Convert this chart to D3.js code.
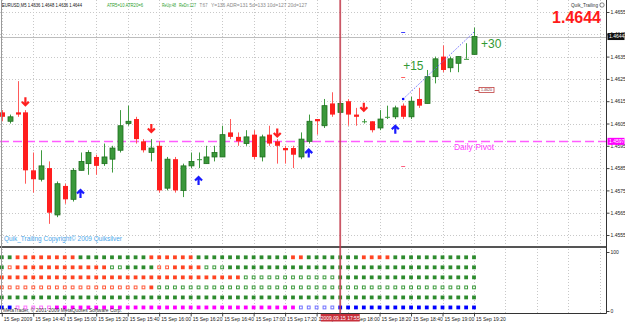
<!DOCTYPE html>
<html>
<head>
<meta charset="utf-8">
<script src="https://cdn.jsdelivr.net/npm/d3@7"></script>
<style>
html, body { margin: 0; padding: 0; background: #fff; }
svg { display: block; font-family: "Liberation Sans", Arial, sans-serif; }
</style>
</head>
<body>
<svg id="chart" width="625" height="323"></svg>
<script>
"use strict";

// EURUSD M5 candles, bar 0 = 14:20, bar 60 = 19:20
var opens  = [1.4610,1.4606,1.4610,1.4610,1.4584,1.4580,1.4585,1.4564,1.4577,1.4571,
              1.4584,1.4587,1.4590,1.4587,1.4589,1.4593,1.4605,1.4607,1.4597,1.4592,
              1.4595,1.4576,1.4589,1.4575,1.4586,1.4589,1.4587,1.4590,1.4590,1.4601,
              1.4599,1.4596,1.4600,1.4590,1.4600,1.4597,1.4594,1.4594,1.4590,1.4597,
              1.4607,1.4604,1.4614,1.4610,1.4615,1.4609,1.4606,1.4606,1.4603,1.4608,
              1.4608,1.4613,1.4608,1.4616,1.4614,1.4626,1.4635,1.4630,1.4632,1.4634,
              1.4636];
var highs  = [1.4611,1.4609,1.4624,1.4611,1.4592,1.4593,1.4588,1.4579,1.4578,1.4585,
              1.4592,1.4593,1.4591,1.4596,1.4595,1.4611,1.4613,1.4608,1.4598,1.4598,
              1.4597,1.4590,1.4590,1.4587,1.4592,1.4592,1.4595,1.4595,1.4604,1.4607,
              1.4601,1.4602,1.4602,1.4600,1.4604,1.4598,1.4595,1.4595,1.4601,1.4609,
              1.4607,1.4616,1.4619,1.4615,1.4616,1.4612,1.4607,1.4606,1.4611,1.4613,
              1.4613,1.4614,1.4617,1.4621,1.4629,1.4635,1.4640,1.4635,1.4635,1.4641,
              1.4648];
var lows   = [1.4606,1.4605,1.4608,1.4578,1.4574,1.4579,1.4560,1.4563,1.4569,1.4570,
              1.4584,1.4582,1.4582,1.4586,1.4583,1.4592,1.4604,1.4596,1.4592,1.4588,
              1.4574,1.4575,1.4574,1.4572,1.4585,1.4585,1.4587,1.4588,1.4590,1.4598,
              1.4595,1.4595,1.4589,1.4588,1.4595,1.4587,1.4587,1.4585,1.4589,1.4596,
              1.4600,1.4603,1.4608,1.4609,1.4604,1.4604,1.4605,1.4601,1.4602,1.4607,
              1.4607,1.4607,1.4607,1.4612,1.4614,1.4623,1.4628,1.4628,1.4628,1.4634,
              1.4636];
var closes = [1.4608,1.4608,1.4609,1.4584,1.4580,1.4586,1.4565,1.4578,1.4571,1.4584,
              1.4588,1.4592,1.4586,1.4590,1.4594,1.4604,1.4606,1.4598,1.4593,1.4594,
              1.4575,1.4589,1.4575,1.4586,1.4588,1.4589,1.4590,1.4592,1.4600,1.4599,
              1.4597,1.4599,1.4590,1.4599,1.4596,1.4595,1.4593,1.4591,1.4598,1.4606,
              1.4606,1.4613,1.4609,1.4614,1.4609,1.4608,1.4606,1.4602,1.4607,1.4608,
              1.4612,1.4608,1.4615,1.4613,1.4626,1.4634,1.4629,1.4634,1.4635,1.4634,
              1.4644];

// signal arrows
var downBars = [3, 19, 35, 46];
var downPrices = [1.4615, 1.4603, 1.4601, 1.46125];
var upBars = [10, 25, 39, 50];
var upPrices = [1.45734, 1.45792, 1.45915, 1.46022];

// levels
var pivot = 1.4597;
var bid = 1.4644;
var entryBar = 51;
var entryPrice = 1.4616;
var targetPrice = 1.4646;
var stopPrice = 1.4586;
var midMark = 1.4626;
var boxPrice = 1.4620;
var plus15Price = 1.4631;
var plus30Price = 1.4641;
var cursorBar = 43;

// axes
var priceTicks = [1.4555,1.4565,1.4575,1.4585,1.4595,1.4605,1.4615,1.4625,1.4635,1.4645,1.4655];
var timeBars = [0,4,8,12,16,20,24,28,32,36,40,44,48,52,56,60];
var timeLabels = ["15 Sep 2009","15 Sep 14:40","15 Sep 15:00","15 Sep 15:20","15 Sep 15:40",
                  "15 Sep 16:00","15 Sep 16:20","15 Sep 16:40","15 Sep 17:00","15 Sep 17:20",
                  "15 Sep 17:40","15 Sep 18:00","15 Sep 18:20","15 Sep 18:40","15 Sep 19:00",
                  "15 Sep 19:20"];
var gridBars = [0,4,8,12,16,20,24,28,32,36,40,44,48,52,56,60,64,68,72,76];

// lower panel: 6 rows of squares, G/R/M/B filled, g/r/m/b hollow
var rowLevels = [91, 74, 57, 40, 23, 6];
var rowCodes = [
  "GG" + "RRRRRRRR" + "GGGGGGGGG" + "RRRRRR" + "GGGGGGGGGGGG" + "RR" + "GGGGGGG" + "RRRR" + "GGGGGGGGGGG",
  "Gr" + "RRRRRRRRRRRR" + "gg" + "GGGG" + "rr" + "RRRR" + "ggg" + "GGGGGGGGGGGGGGGGGGGGGGGGGGGGGGGG",
  "RRRRRRRRRRRRRRRRRRRRRRRRRRRRRRR" + "gggggggggggg" + "GGGGGGGGGGGGGGGGGG",
  "rrrrrrrrrrrrrrrrrrr" + "R" + "ggggggggggggggggggggggggggggggggggggggggg",
  "GGGGGGGGGGGGGGGGGGGGGGGGGGGGGGGGGGGGGGGGGGGGGGGGGGGGGGGGGGGGG",
  "BB" + "mmmmm" + "MMMMMMMMMMMMMMMMMMMMMMMMMMMMMMM" + "bbbbb" + "BBBBBBBBBBBBBBBBBB"
];
var codeColor = { G: "#2e8b2e", g: "#3c9a3c", R: "#ff4422", r: "#ff5a3a",
                  M: "#ff00ff", m: "#ff70ff", B: "#0000ff", b: "#7070ff" };

const W = 625, H = 323;
const axisX = 606.5;
const bottomY = 313.5;
const bull = "#3a983a", bullEdge = "#1f6e1f", bear = "#ff1e1e";

const x = d3.scaleLinear().domain([0, 60]).range([1.8, 474]);
const y = d3.scaleLinear().domain([1.4555, 1.4655]).range([235, 12]);
const yInd = d3.scaleLinear().domain([0, 100]).range([311, 252]);
const px = v => Math.round(v) + 0.5;

const svg = d3.select("#chart");
svg.append("rect").attr("width", W).attr("height", H).attr("fill", "#fff");

//grid
const grid = svg.append("g").attr("stroke", "#c8c8c8").attr("stroke-dasharray", "1,2");
grid.selectAll("line.v").data(gridBars.filter(b => x(b) < axisX)).join("line")
  .attr("x1", d => px(x(d))).attr("x2", d => px(x(d)))
  .attr("y1", 0).attr("y2", bottomY);
grid.selectAll("line.h").data(priceTicks).join("line")
  .attr("x1", 0).attr("x2", axisX)
  .attr("y1", d => px(y(d))).attr("y2", d => px(y(d)));

//bid line and daily pivot
svg.append("line").attr("x1", 0).attr("x2", axisX)
  .attr("y1", px(y(bid))).attr("y2", px(y(bid)))
  .attr("stroke", "#bdbdbd");
svg.append("line").attr("x1", 0).attr("x2", axisX)
  .attr("y1", px(y(pivot))).attr("y2", px(y(pivot)))
  .attr("stroke", "#ff5cff").attr("stroke-width", 1.3).attr("stroke-dasharray", "9,4");
svg.append("text").attr("x", x(60)).attr("y", y(pivot) + 8.5)
  .attr("text-anchor", "middle").attr("font-size", 8.5).attr("fill", "#ff40ff")
  .text("Daily Pivot");

//candles
const candles = d3.range(opens.length).map(i => ({
  i: i, o: opens[i], h: highs[i], l: lows[i], c: closes[i]
}));
const cg = svg.append("g");
const bar = cg.selectAll("g.bar").data(candles).join("g").attr("class", "bar");
bar.append("line")
  .attr("x1", d => px(x(d.i))).attr("x2", d => px(x(d.i)))
  .attr("y1", d => y(d.h)).attr("y2", d => y(d.l))
  .attr("stroke", d => d.c >= d.o ? "#3f9a3f" : "#ff5a5a");
bar.append("rect")
  .attr("x", d => Math.round(x(d.i)) - 2)
  .attr("width", 5)
  .attr("y", d => y(Math.max(d.o, d.c)))
  .attr("height", d => Math.max(1, Math.abs(y(d.o) - y(d.c))))
  .attr("fill", d => d.c > d.o ? bull : (d.c < d.o ? bear : "#3f9a3f"))
  .attr("stroke", d => d.c > d.o ? bullEdge : "none")
  .attr("stroke-width", 0.8);

//arrows
const arrowG = svg.append("g").attr("fill", "none").attr("stroke-width", 2.2)
  .attr("stroke-linejoin", "miter");
downBars.forEach((b, k) => {
  const cx = x(b), cy = y(downPrices[k]);
  arrowG.append("path")
    .attr("d", `M${cx},${cy - 4}V${cy + 4}M${cx - 3.5},${cy + 0.5}L${cx},${cy + 4}L${cx + 3.5},${cy + 0.5}`)
    .attr("stroke", "#ff2020");
});
upBars.forEach((b, k) => {
  const cx = x(b), cy = y(upPrices[k]);
  arrowG.append("path")
    .attr("d", `M${cx},${cy + 4}V${cy - 4}M${cx - 3.5},${cy - 0.5}L${cx},${cy - 4}L${cx + 3.5},${cy - 0.5}`)
    .attr("stroke", "#1a1aff");
});

//trailing target line and markers
svg.append("line")
  .attr("x1", x(entryBar)).attr("y1", y(entryPrice))
  .attr("x2", x(60)).attr("y2", y(targetPrice))
  .attr("stroke", "#6a6aff").attr("stroke-dasharray", "1.5,1.5");
svg.append("circle").attr("cx", x(entryBar)).attr("cy", y(entryPrice)).attr("r", 1.3).attr("fill", "#0000ff");
[[targetPrice, "#4040ff"], [midMark, "#ff6060"], [stopPrice, "#ff6080"]].forEach(m => {
  svg.append("line").attr("x1", x(entryBar) - 2).attr("x2", x(entryBar) + 2)
    .attr("y1", px(y(m[0]))).attr("y2", px(y(m[0]))).attr("stroke", m[1]);
});
svg.append("text").attr("x", x(entryBar)).attr("y", y(plus15Price)).attr("dy", "0.36em")
  .attr("font-size", 12).attr("fill", "#339933").text("+15");
svg.append("text").attr("x", x(60) + 7).attr("y", y(plus30Price)).attr("dy", "0.36em")
  .attr("font-size", 12).attr("fill", "#339933").text("+30");
svg.append("line").attr("x1", x(60) + 1).attr("x2", x(60) + 5)
  .attr("y1", px(y(boxPrice))).attr("y2", px(y(boxPrice))).attr("stroke", "#c04040");
svg.append("rect").attr("x", x(60) + 5).attr("y", y(boxPrice) - 2.5)
  .attr("width", 15).attr("height", 5).attr("fill", "#fff").attr("stroke", "#c04040").attr("stroke-width", 0.8);
svg.append("text").attr("x", x(60) + 12.5).attr("y", y(boxPrice)).attr("dy", "0.35em")
  .attr("text-anchor", "middle").attr("font-size", 3.6).attr("fill", "#803030").text(boxPrice.toFixed(4));

//header texts
const head = [
  ["EURUSD,M5  1.4636 1.4648 1.4636 1.4644", 2, 80, "#111"],
  ["ATR5=10 ATR20=6", 107, 36, "#2ea02e"],
  ["ReUp:48", 162, 14, "#2ea02e"],
  ["ReDn:127", 179, 17, "#2ea02e"],
  ["T:67", 199.5, 8, "#888"],
  ["Y=136 ADR=131 5d=133 10d=127 20d=127", 211, 96, "#888"]
];
svg.selectAll("text.head").data(head).join("text").attr("class", "head")
  .attr("x", d => d[1]).attr("y", 7).attr("font-size", 5.5)
  .attr("textLength", d => d[2]).attr("lengthAdjust", "spacingAndGlyphs")
  .attr("fill", d => d[3]).text(d => d[0]);

svg.append("text").attr("x", 571).attr("y", 7).attr("font-size", 5.5)
  .attr("textLength", 27).attr("lengthAdjust", "spacingAndGlyphs")
  .attr("fill", "#333").text("Quik_Trailing");
svg.append("circle").attr("cx", 602).attr("cy", 5).attr("r", 2.2)
  .attr("fill", "none").attr("stroke", "#555").attr("stroke-width", 0.7);
svg.append("text").attr("x", 601).attr("y", 23).attr("text-anchor", "end")
  .attr("font-size", 16).attr("font-weight", "bold").attr("fill", "#ff1a1a").text("1.4644");

svg.append("text").attr("x", 4).attr("y", 241).attr("font-size", 6.5)
  .attr("textLength", 118).attr("lengthAdjust", "spacingAndGlyphs")
  .attr("fill", "#49a6ea").text("Quik_Trailing  Copyright\u00a9 2009 Quiksilver");

//lower panel squares
const sq = svg.append("g");
rowCodes.forEach((codes, r) => {
  const cells = codes.split("").map((c, i) => ({ i: i, c: c }));
  const filled = d => d.c === d.c.toUpperCase();
  sq.selectAll("rect.r" + r).data(cells).join("rect").attr("class", "r" + r)
    .attr("x", d => x(d.i) - (filled(d) ? 1.9 : 1.4))
    .attr("y", d => yInd(rowLevels[r]) - (filled(d) ? 1.9 : 1.4))
    .attr("width", d => filled(d) ? 3.8 : 2.8)
    .attr("height", d => filled(d) ? 3.8 : 2.8)
    .attr("fill", d => filled(d) ? codeColor[d.c] : "none")
    .attr("stroke", d => filled(d) ? "none" : codeColor[d.c])
    .attr("stroke-width", 1);
});
svg.append("text").attr("x", 3).attr("y", 311.5).attr("font-size", 5)
  .attr("textLength", 119).attr("lengthAdjust", "spacingAndGlyphs")
  .attr("fill", "#333").text("MetaTrader, \u00a9 2001-2009 MetaQuotes Software Corp.");

//frames
svg.append("line").attr("x1", 0).attr("x2", axisX).attr("y1", 247).attr("y2", 247)
  .attr("stroke", "#555").attr("stroke-width", 2);
svg.append("line").attr("x1", 1.5).attr("x2", 1.5).attr("y1", 0).attr("y2", bottomY)
  .attr("stroke", "#9a9a9a");

//price axis
const yAxis = d3.axisRight(y).tickValues(priceTicks).tickSize(3).tickSizeOuter(0)
  .tickFormat(d3.format(".4f"));
const ya = svg.append("g").attr("transform", `translate(${axisX},0)`).call(yAxis);
ya.select(".domain").remove();
ya.selectAll("text").attr("font-size", 5).attr("x", 4).attr("fill", "#222");
ya.selectAll("line").attr("stroke", "#444");

const indAxis = d3.axisRight(yInd).tickValues([0, 100]).tickSize(3).tickSizeOuter(0);
const ia = svg.append("g").attr("transform", `translate(${axisX},0)`).call(indAxis);
ia.select(".domain").remove();
ia.selectAll("text").attr("font-size", 5).attr("x", 4).attr("fill", "#222");
ia.selectAll("line").attr("stroke", "#444");

//time axis
const xAxis = d3.axisBottom(x).tickValues(timeBars).tickSize(3).tickSizeOuter(0)
  .tickFormat((d, i) => timeLabels[i]);
const xa = svg.append("g").attr("transform", `translate(0,${bottomY})`).call(xAxis);
xa.select(".domain").remove();
xa.selectAll("text").attr("font-size", 5).attr("text-anchor", "start")
  .attr("x", 1.5).attr("y", 4).attr("fill", "#222");
xa.selectAll("line").attr("stroke", "#444");

svg.append("line").attr("x1", 0).attr("x2", axisX).attr("y1", bottomY).attr("y2", bottomY)
  .attr("stroke", "#333");
svg.append("line").attr("x1", axisX).attr("x2", axisX).attr("y1", 0).attr("y2", bottomY)
  .attr("stroke", "#333");

//cursor line
svg.append("line").attr("x1", x(cursorBar)).attr("x2", x(cursorBar)).attr("y1", 0).attr("y2", bottomY)
  .attr("stroke", "#c23a4c").attr("stroke-width", 1.8).attr("opacity", 0.85);
svg.append("rect").attr("x", x(cursorBar) - 19.5).attr("y", bottomY + 0.5)
  .attr("width", 39).attr("height", 7.5).attr("fill", "#c8303c");
svg.append("text").attr("x", x(cursorBar)).attr("y", bottomY + 6.3).attr("text-anchor", "middle")
  .attr("font-size", 5).attr("fill", "#fff").text("2009.09.15 17:55");

//price boxes on the axis
[[bid, "#111"], [pivot, "#ff00ff"]].forEach(b => {
  svg.append("rect").attr("x", axisX + 1).attr("y", y(b[0]) - 3.5)
    .attr("width", 17).attr("height", 7).attr("fill", b[1]);
  svg.append("text").attr("x", axisX + 2.5).attr("y", y(b[0])).attr("dy", "0.35em")
    .attr("font-size", 5).attr("fill", "#fff").text(b[0].toFixed(4));
});
</script>
</body>
</html>
